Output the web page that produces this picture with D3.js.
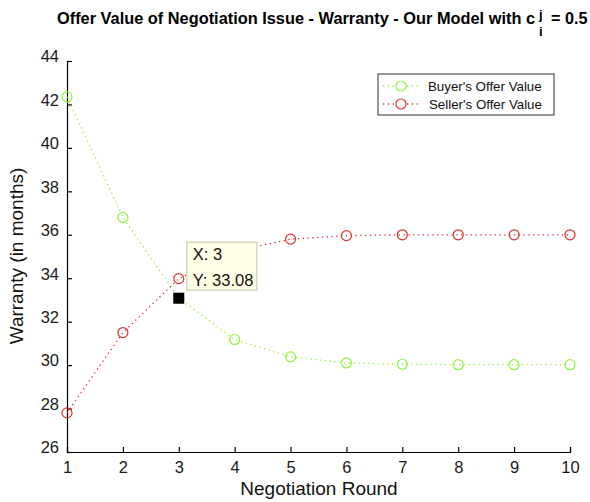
<!DOCTYPE html>
<html>
<head>
<meta charset="utf-8">
<script src="https://cdn.jsdelivr.net/npm/d3@7"></script>
<style>
  body { margin: 0; background: #fff; }
  text { font-family: Arial, "Liberation Sans", Helvetica, sans-serif; }
</style>
</head>
<body>
<div id="chart"></div>
<script>
var rounds = [1, 2, 3, 4, 5, 6, 7, 8, 9, 10];
var buyerValues = [42.35, 36.8, 33.08, 31.18, 30.38, 30.1, 30.04, 30.02, 30.02, 30.02];
var sellerValues = [27.8, 31.5, 33.98, 35.25, 35.8, 35.96, 36.0, 36.0, 36.0, 36.0];
var yTicks = [26, 28, 30, 32, 34, 36, 38, 40, 42, 44];
var seriesNames = ["Buyer's Offer Value", "Seller's Offer Value"];
var seriesColors = ["#8cf53a", "#e03030"];
var tipRound = 3, tipValue = 33.08;

(function () {
  var width = 590, height = 502;
  var margin = { top: 61, right: 20, bottom: 50, left: 67 };

  var svg = d3.select("#chart").append("svg")
    .attr("width", width)
    .attr("height", height);

  var x = d3.scaleLinear().domain([1, 10]).range([margin.left, 570]);
  var y = d3.scaleLinear().domain([26, 44]).range([452, margin.top]);

  // title with stacked super/subscript
  svg.append("text")
    .attr("x", 57).attr("y", 24)
    .attr("textLength", 478).attr("lengthAdjust", "spacingAndGlyphs")
    .style("font-size", "16.2px").style("font-weight", "bold").attr("fill", "#000")
    .text("Offer Value of Negotiation Issue - Warranty - Our Model with c");
  svg.append("text").attr("x", 539).attr("y", 19).text("j")
    .style("font-size", "13px").style("font-weight", "bold");
  svg.append("text").attr("x", 539).attr("y", 36).text("i")
    .style("font-size", "13px").style("font-weight", "bold");
  svg.append("text").attr("x", 551).attr("y", 24).text("= 0.5")
    .style("font-size", "16.2px").style("font-weight", "bold");

  // axes
  var xAxis = d3.axisBottom(x).tickValues(rounds).tickSize(-5).tickPadding(9).tickFormat(d3.format("d"));
  var yAxis = d3.axisLeft(y).tickValues(yTicks).tickSize(-5).tickPadding(8);

  var gx = svg.append("g").attr("transform", "translate(0,452)").call(xAxis);
  var gy = svg.append("g").attr("transform", "translate(" + margin.left + ",0)").call(yAxis);
  [gx, gy].forEach(function (g) {
    g.select(".domain").attr("stroke", "#000").attr("stroke-width", 1.2);
    g.selectAll(".tick line").attr("stroke", "#000").attr("stroke-width", 1.2);
    g.selectAll(".tick text").style("font-size", "16.5px").attr("fill", "#1a1a1a")
      .style("font-family", "Arial, 'Liberation Sans', sans-serif");
  });
  gy.selectAll(".tick text").attr("dy", "0.05em");

  svg.append("text")
    .attr("x", 319).attr("y", 495)
    .attr("text-anchor", "middle")
    .style("font-size", "19px")
    .attr("fill", "#111")
    .text("Negotiation Round");

  svg.append("text")
    .attr("transform", "translate(23,256) rotate(-90)")
    .attr("text-anchor", "middle")
    .style("font-size", "19px")
    .attr("fill", "#111")
    .text("Warranty (in months)");

  var line = d3.line()
    .x(function (d, i) { return x(rounds[i]); })
    .y(function (d) { return y(d); });

  var series = [buyerValues, sellerValues];
  series.forEach(function (vals, k) {
    svg.append("path")
      .datum(vals)
      .attr("d", line)
      .attr("fill", "none")
      .attr("stroke", seriesColors[k])
      .attr("stroke-width", 1.3)
      .attr("stroke-dasharray", "1.3,3.5");
    svg.selectAll(".pt" + k)
      .data(vals)
      .enter().append("circle")
      .attr("class", "pt" + k)
      .attr("cx", function (d, i) { return x(rounds[i]); })
      .attr("cy", function (d) { return y(d); })
      .attr("r", 5)
      .attr("fill", "none")
      .attr("stroke", seriesColors[k])
      .attr("stroke-width", 1.2);
  });

  // legend
  var legend = svg.append("g").attr("transform", "translate(378,74)");
  legend.append("rect")
    .attr("width", 176).attr("height", 41)
    .attr("fill", "#fff").attr("stroke", "#333").attr("stroke-width", 1);
  seriesNames.forEach(function (name, i) {
    var row = legend.append("g").attr("transform", "translate(0," + (12 + i * 18) + ")");
    row.append("line")
      .attr("x1", 5).attr("x2", 41)
      .attr("stroke", seriesColors[i]).attr("stroke-width", 1.3)
      .attr("stroke-dasharray", "1.3,3.5");
    row.append("circle")
      .attr("cx", 23).attr("r", 5)
      .attr("fill", "#fff").attr("stroke", seriesColors[i]).attr("stroke-width", 1.2);
    row.append("text")
      .attr("x", i === 0 ? 50 : 51).attr("y", 4.5)
      .style("font-size", "13.3px").attr("fill", "#111")
      .text(name);
  });

  // data tip
  var tx = x(tipRound), ty = y(tipValue);
  svg.append("rect")
    .attr("x", tx - 5.5).attr("y", ty - 5.5)
    .attr("width", 11).attr("height", 11)
    .attr("fill", "#000");
  var tip = svg.append("g").attr("transform", "translate(" + (tx + 8) + "," + (ty - 56) + ")");
  tip.append("rect")
    .attr("width", 70).attr("height", 48)
    .attr("fill", "#ffffe6").attr("stroke", "#d8d8c0").attr("stroke-width", 1.5);
  tip.append("text").attr("x", 6).attr("y", 18)
    .style("font-size", "16.5px").attr("fill", "#111").text("X: " + tipRound);
  tip.append("text").attr("x", 6).attr("y", 44)
    .style("font-size", "16.5px").attr("fill", "#111").text("Y: " + d3.format(".2f")(tipValue));
})();
</script>
</body>
</html>
